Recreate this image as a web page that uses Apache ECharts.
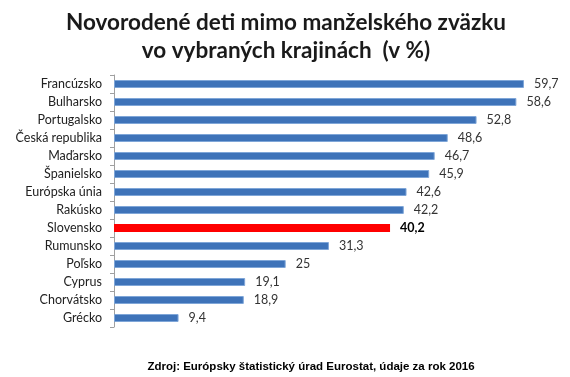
<!DOCTYPE html>
<html>
<head>
<meta charset="utf-8">
<script src="https://cdn.jsdelivr.net/npm/echarts@6/dist/echarts.min.js"></script>
<style>
  html, body { margin: 0; padding: 0; background: #fff; }
  #chart { width: 570px; height: 377px; }
</style>
</head>
<body>
<div id="chart"></div>
<script>
// krajiny a hodnoty (v %)
var countries = ['Francúzsko', 'Bulharsko', 'Portugalsko', 'Česká republika', 'Maďarsko', 'Španielsko',
  'Európska únia', 'Rakúsko', 'Slovensko', 'Rumunsko', 'Poľsko', 'Cyprus', 'Chorvátsko', 'Grécko'];
var values = [59.7, 58.6, 52.8, 48.6, 46.7, 45.9, 42.6, 42.2, 40.2, 31.3, 25, 19.1, 18.9, 9.4];
var highlight = 'Slovensko';

var chart = echarts.init(document.getElementById('chart'));

var barData = values.map(function (v, i) {
  var isSk = countries[i] == highlight;
  return {
    value: v,
    itemStyle: isSk ? { color: '#ff0000', borderColor: '#ff3030', borderWidth: 0 } : {},
    label: isSk ? { fontWeight: 'bold', color: '#000' } : {}
  };
});

var option = {
  animation: false,
  title: [{
    text: 'Novorodené deti mimo manželského zväzku\nvo vybraných krajinách  (v %)',
    left: 281,
    top: 4,
    textAlign: 'center',
    textStyle: { fontFamily: 'Lato', fontWeight: 'bold', fontSize: 22.5, lineHeight: 28, color: '#1a1a1a' }
  }, {
    text: 'Zdroj: Európsky štatistický úrad Eurostat, údaje za rok 2016',
    left: 306,
    top: 356,
    textAlign: 'center',
    textStyle: { fontFamily: 'Liberation Sans', fontWeight: 'bold', fontSize: 11.5, color: '#000' }
  }],
  grid: { left: 114, top: 75, width: 412, height: 252 },
  xAxis: {
    type: 'value',
    min: 0,
    max: 60,
    show: false
  },
  yAxis: {
    type: 'category',
    data: countries,
    inverse: true,
    axisLine: { lineStyle: { color: '#a0a0a0', width: 1 } },
    axisTick: { show: true, length: 4, lineStyle: { color: '#a0a0a0' } },
    axisLabel: { fontFamily: 'Lato', fontSize: 12.5, color: '#222', margin: 12 }
  },
  series: [{
    type: 'bar',
    data: barData,
    barWidth: 8,
    itemStyle: { color: '#3e73b9', borderColor: '#7fa6d8', borderWidth: 1 },
    label: {
      show: true,
      position: 'right',
      distance: 10,
      fontFamily: 'Lato',
      fontSize: 12.5,
      color: '#333',
      formatter: function (p) { return String(p.value).replace('.', ','); }
    }
  }]
};
chart.setOption(option);
</script>
</body>
</html>
